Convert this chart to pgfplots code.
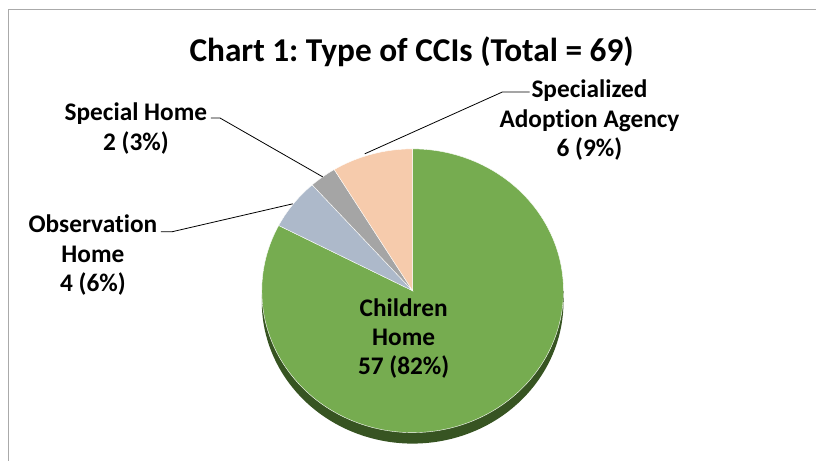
\documentclass[border=0pt]{standalone}
\usepackage{pgfplots}
\usepackage{pgfplotstable}
\pgfplotsset{compat=1.18}
\usepackage{fontspec}
\setmainfont{Carlito}[Ligatures=CommonOff]
\frenchspacing
\definecolor{cgreen}{RGB}{118,172,80}
\definecolor{cblue}{RGB}{173,185,202}
\definecolor{cgray}{RGB}{165,165,165}
\definecolor{cpeach}{RGB}{246,203,172}
\definecolor{cside}{RGB}{55,84,34}
\definecolor{cframe}{RGB}{170,170,170}

\pgfplotstableread{
name value
Children 57
Observation 4
Special 2
Adoption 6
}\piedata

\pgfplotstablegetelem{0}{value}\of\piedata \let\vA\pgfplotsretval
\pgfplotstablegetelem{1}{value}\of\piedata \let\vB\pgfplotsretval
\pgfplotstablegetelem{2}{value}\of\piedata \let\vC\pgfplotsretval
\pgfplotstablegetelem{3}{value}\of\piedata \let\vD\pgfplotsretval
\pgfmathsetmacro\tot{\vA+\vB+\vC+\vD}
\pgfmathsetmacro\aA{90-360*(\vA/\tot)}
\pgfmathsetmacro\aB{\aA-360*(\vB/\tot)}
\pgfmathsetmacro\aC{\aB-360*(\vC/\tot)}
\pgfmathsetmacro\aD{\aC-360*(\vD/\tot)}

\newcommand\cx{413}
\newcommand\cy{291}
\newcommand\rx{151}
\newcommand\ry{142}

\begin{document}
\begin{tikzpicture}
\begin{axis}[width=612.75pt,height=345.75pt,scale only axis,hide axis,
  xmin=0,xmax=817,ymin=0,ymax=461,y dir=reverse,clip=false,samples=150]
\path (0,0) (817,461);
% frame
\draw[cframe, line width=1.1pt] (8.5,461) -- (8.5,9.5) -- (817,9.5);
% side of the pie
\addplot[draw=none, fill=cside, domain=0:360] ({\cx+\rx*cos(x)},{\cy+11-\ry*sin(x)}) -- cycle;
\addplot[draw=none, fill=cside] coordinates {(\cx-\rx,\cy) (\cx+\rx,\cy) (\cx+\rx,\cy+11) (\cx-\rx,\cy+11)} -- cycle;
% slices
\addplot[fill=cgreen, draw=white, line width=0.3pt, domain=\aA:90] ({\cx+\rx*cos(x)},{\cy-\ry*sin(x)}) -- (\cx,\cy) -- cycle;
\addplot[fill=cblue, draw=white, line width=0.3pt, domain=\aB:\aA] ({\cx+\rx*cos(x)},{\cy-\ry*sin(x)}) -- (\cx,\cy) -- cycle;
\addplot[fill=cgray, draw=white, line width=0.3pt, domain=\aC:\aB] ({\cx+\rx*cos(x)},{\cy-\ry*sin(x)}) -- (\cx,\cy) -- cycle;
\addplot[fill=cpeach, draw=white, line width=0.3pt, domain=\aD:\aC] ({\cx+\rx*cos(x)},{\cy-\ry*sin(x)}) -- (\cx,\cy) -- cycle;
% leader lines
\draw[black, line width=0.6pt] (211,118) -- (220,118) -- (323,177);
\draw[black, line width=0.6pt] (161,232) -- (172,232) -- (293,204);
\draw[black, line width=0.6pt] (530,92) -- (503,92) -- (365,154);
% title
\node[font=\fontsize{25}{30}\selectfont\bfseries, anchor=base] at (412,62) {Chart 1: Type of CCIs (Total = 69)};
% labels
\tikzset{lab/.style={font=\fontsize{19}{23}\selectfont\bfseries, anchor=base, inner sep=0pt}}
\node[lab] at (136,121) {Special Home};
\node[lab] at (136,151) {2 (3\%)};
\node[lab] at (93,233) {Observation};
\node[lab] at (93,263) {Home};
\node[lab] at (93,292) {4 (6\%)};
\node[lab] at (590,98) {Specialized};
\node[lab] at (590,128) {Adoption Agency};
\node[lab] at (590,157) {6 (9\%)};
\node[lab] at (404,317) {Children};
\node[lab] at (404,346) {Home};
\node[lab] at (404,375) {57 (82\%)};
\end{axis}
\end{tikzpicture}
\end{document}
